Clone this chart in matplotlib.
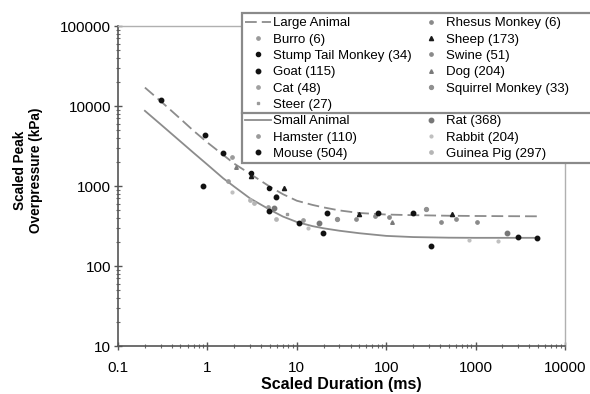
import numpy as np
import matplotlib
matplotlib.use("Agg")
import matplotlib.pyplot as plt
from matplotlib.lines import Line2D
from matplotlib.patches import Rectangle

plt.rcParams["font.family"] = ["Liberation Sans", "DejaVu Sans"]

# fitted curves (duration ms, overpressure kPa)
curve_t = [0.2, 0.3, 0.5, 0.7, 1, 1.5, 2, 3, 5, 7, 10, 15, 20, 30, 50,
           100, 200, 500, 1000, 2000, 5000]
large_p = [17000, 11500, 6900, 4900, 3500, 2450, 1900, 1420, 980, 790, 655,
           580, 540, 495, 460, 440, 432, 425, 422, 420, 418]
small_p = [8700, 5900, 3600, 2600, 1850, 1250, 980, 700, 505, 415, 355,
           315, 296, 276, 257, 238, 230, 226, 225, 225, 225]

# species points: (duration, pressure)
burro_t, burro_p = [1.9], [2300]
stump_t, stump_p = [3.1, 4.9], [1466, 935]
goat_t, goat_p = [0.3, 0.95, 1.5], [11900, 4300, 2550]
cat_t, cat_p = [5.8], [760]
steer_t, steer_p = [7.8], [443]
rhesus_t, rhesus_p = [45.9, 604], [383, 383]
sheep_t, sheep_p = [3.1, 7.25, 50, 548], [1334, 935, 447, 447]
swine_t, swine_p = [75, 108, 407, 1028], [422, 405, 358, 358]
dog_t, dog_p = [2.1, 117], [1714, 352]
squirrel_t, squirrel_p = [28.5, 279], [383, 512]
hamster_t, hamster_p = [1.7, 4.8, 11.7], [1165, 550, 376]
mouse_t = [0.9, 5.8, 4.9, 10.7, 19.5, 21.5, 82, 201, 317, 3003, 4900]
mouse_p = [990, 735, 490, 346, 257, 464, 464, 464, 179, 232, 226]
rat_t, rat_p = [5.6, 17.9, 2263], [535, 346, 257]
rabbit_t, rabbit_p = [1.9, 13.2, 851, 1767], [850, 295, 211, 207]
guinea_t, guinea_p = [3.0, 3.3, 5.9], [668, 605, 383]

fig = plt.figure(figsize=(5.9, 3.94), dpi=100)
ax = fig.add_axes([0.2, 0.1218, 0.7576, 0.8122])

ln_large, = ax.plot(curve_t, large_p, color="#8c8c8c", lw=1.3,
                    dashes=(6.5, 2.8), zorder=2)
ln_small, = ax.plot(curve_t, small_p, color="#8c8c8c", lw=1.3, zorder=2)

def pts(t, p, color, marker="o", ms=2.6):
    h, = ax.plot(t, p, ls="none", marker=marker, color=color, ms=ms,
                 mec=color, zorder=3)
    return h

h_burro = pts(burro_t, burro_p, "#9a9a9a", ms=2.4)
h_stump = pts(stump_t, stump_p, "#111111", ms=3)
h_goat = pts(goat_t, goat_p, "#111111", ms=3.2)
h_cat = pts(cat_t, cat_p, "#a0a0a0", ms=2.4)
h_steer = pts(steer_t, steer_p, "#9a9a9a", marker="s", ms=2)
h_rhesus = pts(rhesus_t, rhesus_p, "#8a8a8a", ms=2.4)
h_sheep = pts(sheep_t, sheep_p, "#1a1a1a", marker="^", ms=3)
h_swine = pts(swine_t, swine_p, "#8a8a8a", ms=2.4)
h_dog = pts(dog_t, dog_p, "#7a7a7a", marker="^", ms=2.6)
h_squirrel = pts(squirrel_t, squirrel_p, "#909090", ms=2.8)
h_hamster = pts(hamster_t, hamster_p, "#9a9a9a", ms=2.4)
h_mouse = pts(mouse_t, mouse_p, "#111111", ms=3.2)
h_rat = pts(rat_t, rat_p, "#777777", ms=3.2)
h_rabbit = pts(rabbit_t, rabbit_p, "#c0c0c0", ms=2)
h_guinea = pts(guinea_t, guinea_p, "#b5b5b5", ms=2.4)

ax.set_xscale("log")
ax.set_yscale("log")
ax.set_xlim(0.1, 10000)
ax.set_ylim(10, 100000)
ax.set_xticks([0.1, 1, 10, 100, 1000, 10000])
ax.set_xticklabels(["0.1", "1", "10", "100", "1000", "10000"])
ax.set_yticks([10, 100, 1000, 10000, 100000])
ax.set_yticklabels(["10", "100", "1000", "10000", "100000"])
ax.tick_params(which="major", direction="inout", length=6, width=1,
               color="#555555", labelsize=11, pad=2)
ax.tick_params(axis="x", which="major", pad=7.5)
ax.tick_params(which="minor", direction="inout", length=3, width=0.8,
               color="#666666")
for s in ("left", "bottom"):
    ax.spines[s].set_color("#555555")
    ax.spines[s].set_linewidth(1.2)
for s in ("top", "right"):
    ax.spines[s].set_color("#b0b0b0")
    ax.spines[s].set_linewidth(1.0)

ax.set_xlabel("Scaled Duration (ms)", fontsize=11.5, fontweight="bold",
              labelpad=1.5)
fig.text(28 / 590, 0.569, "Scaled Peak\nOverpressure (kPa)", rotation=90,
         ha="center", va="center", multialignment="center", fontsize=9.8,
         fontweight="bold")

blank = Line2D([], [], ls="none")
handles = [ln_large, h_burro, h_stump, h_goat, h_cat, h_steer,
           ln_small, h_hamster, h_mouse,
           h_rhesus, h_sheep, h_swine, h_dog, h_squirrel, blank,
           h_rat, h_rabbit, h_guinea]
labels = ["Large Animal", "Burro (6)", "Stump Tail Monkey (34)", "Goat (115)",
          "Cat (48)", "Steer (27)", "Small Animal", "Hamster (110)",
          "Mouse (504)", "Rhesus Monkey (6)", "Sheep (173)", "Swine (51)",
          "Dog (204)", "Squirrel Monkey (33)", " ", "Rat (368)",
          "Rabbit (204)", "Guinea Pig (297)"]
leg = fig.legend(handles, labels, ncol=2, loc="upper left",
                 bbox_to_anchor=(243 / 590, 1 - 15 / 394), frameon=False,
                 fontsize=9.5, handlelength=2.0, handletextpad=0.15,
                 columnspacing=0.45, labelspacing=0.31, borderpad=0.15,
                 borderaxespad=0)

# frame and divider drawn from the legend's rendered extent
fig.canvas.draw()
inv = fig.transFigure.inverted()
bb = leg.get_window_extent().transformed(inv)
texts = leg.get_texts()
steer_bb = texts[5].get_window_extent().transformed(inv)
small_bb = texts[6].get_window_extent().transformed(inv)
y_div = (steer_bb.y0 + small_bb.y1) / 2
fig.add_artist(Rectangle((bb.x0 - 0.002, bb.y0 - 0.004), 1.2,
                         bb.height + 0.008, transform=fig.transFigure,
                         facecolor="white", edgecolor="#8a8a8a", lw=1.6,
                         zorder=4))
fig.add_artist(Line2D([bb.x0 - 0.002, 1.0], [y_div, y_div],
                      transform=fig.transFigure, color="#8a8a8a", lw=1.6,
                      zorder=6))

fig.savefig("out.png", dpi=100)
plt.close(fig)
